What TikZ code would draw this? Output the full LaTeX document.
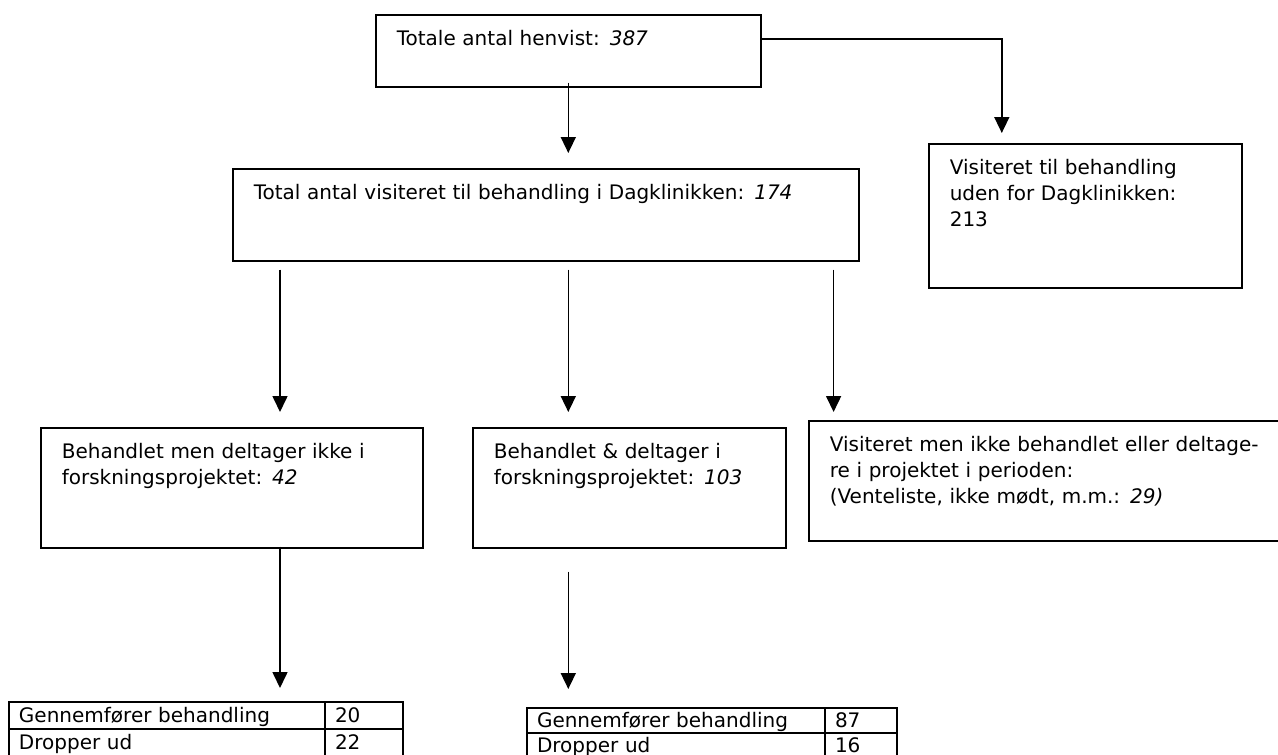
\documentclass[tikz,border=0pt]{standalone}
\usepackage{fontspec}
\setmainfont{DejaVu Sans}
\usetikzlibrary{positioning,arrows.meta}

\begin{document}
\begin{tikzpicture}[%
	x=1pt,
	y=-1pt,
	font=\fontsize{20}{26}\selectfont,
	main node/.style={
		rectangle,
		draw,
		line width=1.6pt,
		anchor=north west,
		inner xsep=21pt,
		inner ysep=16pt,
		text height=15pt,
		%text depth is set per box
		align=left
	},
	cell node/.style={
		rectangle,
		draw,
		line width=1.6pt,
		outer sep=0pt,
		inner xsep=10pt,
		inner ysep=0pt,
		text height=20pt,
		text depth=7pt,
		align=left
	},
	pil/.style={
		line width=1.6pt,
		-{Triangle[length=16pt,width=15pt]}
	}
]
	\useasboundingbox (0,0) rectangle (1278,755);
	\node[main node, text width=343pt, text depth=25pt] (tot) at (375,14) {Totale antal henvist: \textit{387}};
	\node[main node, text width=584pt, text depth=45pt] (dag) at (232,168) {Total antal visiteret til behandling i Dagklinikken: \textit{174}};
	\node[main node, text width=271pt, text depth=97pt] (uden) at (928,143) {Visiteret til behandling\\uden for Dagklinikken:\\213};
	\node[main node, text width=340pt, text depth=73pt] (ikke) at (40,427) {Behandlet men deltager ikke i\\forskningsprojektet: \textit{42}};
	\node[main node, text width=271pt, text depth=73pt] (deltager) at (472,427) {Behandlet \& deltager i\\forskningsprojektet: \textit{103}};
	\node[main node, text width=450pt, text depth=73pt] (venter) at (808,420) {Visiteret men ikke behandlet eller deltage-\\re i projektet i perioden:\\(Venteliste, ikke mødt, m.m.: \textit{29)}};
	% tabellerne
	\node[cell node, anchor=north west, text width=296pt] (g1a) at (9,702) {Gennemfører behandling};
	\node[cell node, text width=58pt] (g1b) [right=0pt of g1a] {20};
	\node[cell node, text width=296pt, text depth=14pt] (d1a) [below=0pt of g1a] {Dropper ud};
	\node[cell node, text width=58pt, text depth=14pt] (d1b) [right=0pt of d1a] {22};
	\node[cell node, anchor=north west, text width=278pt, text height=19pt, text depth=6pt] (g2a) at (527,708) {Gennemfører behandling};
	\node[cell node, text width=52pt, text height=19pt, text depth=6pt] (g2b) [right=0pt of g2a] {87};
	\node[cell node, text width=278pt, text height=19pt, text depth=14pt] (d2a) [below=0pt of g2a] {Dropper ud};
	\node[cell node, text width=52pt, text height=19pt, text depth=14pt] (d2b) [right=0pt of d2a] {16};
	% pile
	\draw[pil, shorten <=-5pt, shorten >=15pt] (tot.south) -- (tot.south |- dag.north);
	\draw[pil, shorten >=10pt] ([yshift=12pt]tot.east) -| ([xshift=-83.5pt]uden.north);
	\draw[pil, shorten <=8pt, shorten >=15pt] ([xshift=48pt]dag.south west) -- ([xshift=48pt]dag.south west |- ikke.north);
	\draw[pil, shorten <=8pt, shorten >=15pt] (tot.south |- dag.south) -- (tot.south |- deltager.north);
	\draw[pil, shorten <=8pt, shorten >=8pt] ([xshift=-26pt]dag.south east) -- ([xshift=-26pt]dag.south east |- venter.north);
	\draw[pil, shorten <=-2pt, shorten >=14pt] ([xshift=48pt]dag.south west |- ikke.south) -- ([xshift=48pt]dag.south west |- g1a.north);
	\draw[pil, shorten <=23pt, shorten >=19pt] (tot.south |- deltager.south) -- (tot.south |- g2a.north);
\end{tikzpicture}
\end{document}
